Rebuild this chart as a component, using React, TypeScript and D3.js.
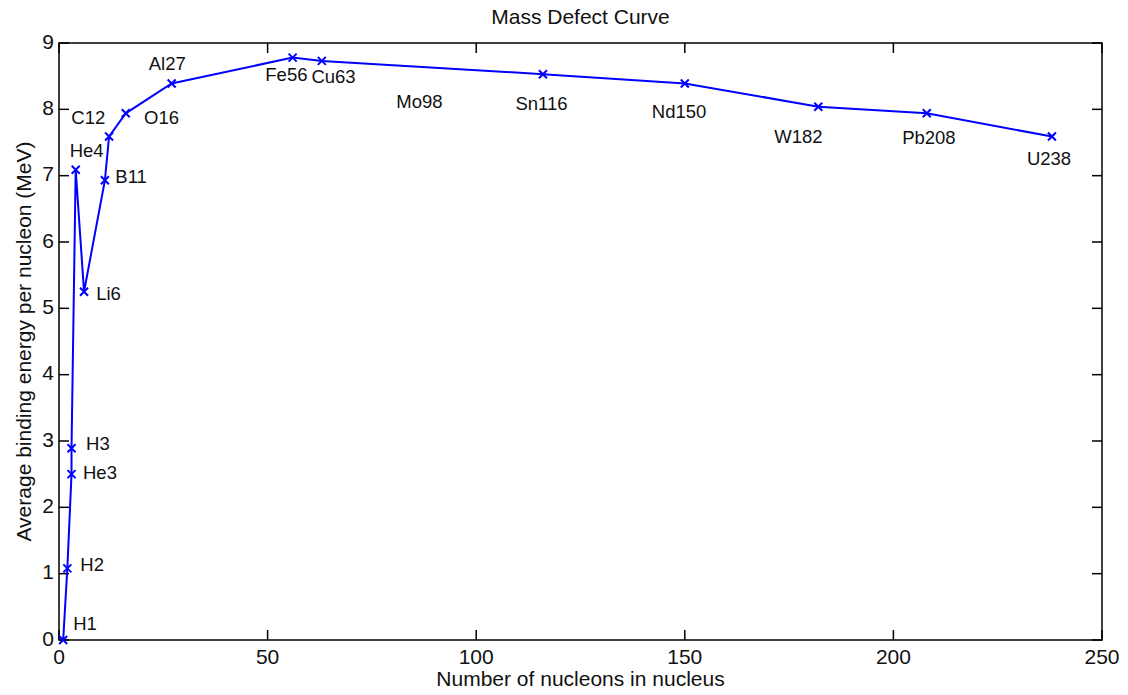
import React, { useEffect, useRef } from "react";
import * as d3 from "d3";

// nuclei on the curve (mass number, binding energy per nucleon in MeV)
const names = ["H1", "H2", "He3", "H3", "He4", "Li6", "B11", "C12", "O16", "Al27", "Fe56", "Cu63", "Sn116", "Nd150", "W182", "Pb208", "U238"];
const massNumber = [1, 2, 3, 3, 4, 6, 11, 12, 16, 27, 56, 63, 116, 150, 182, 208, 238];
const bindingEnergy = [0, 1.08, 2.5, 2.89, 7.09, 5.25, 6.93, 7.59, 7.94, 8.39, 8.78, 8.73, 8.53, 8.39, 8.04, 7.94, 7.59];

// text labels, placed in data units (Mo98 has a label but no point)
const labelNames = ["H1", "H2", "H3", "He3", "He4", "Li6", "B11", "C12", "O16", "Al27", "Fe56", "Cu63", "Mo98", "Sn116", "Nd150", "W182", "Pb208", "U238"];
const labelX = [3.4, 5.1, 6.5, 5.75, 2.55, 8.9, 13.5, 2.95, 20.4, 21.5, 49.45, 60.5, 80.85, 109.4, 142.1, 171.45, 202.1, 232];
const labelY = [0.23, 1.11, 2.94, 2.5, 7.35, 5.2, 6.96, 7.85, 7.85, 8.67, 8.5, 8.47, 8.1, 8.06, 7.94, 7.56, 7.55, 7.24];

const xTicks = [0, 50, 100, 150, 200, 250];
const yTicks = [0, 1, 2, 3, 4, 5, 6, 7, 8, 9];

const W = 1128;
const H = 695;
const margin = { top: 43, right: 26, bottom: 55, left: 59 };
const font = "'Liberation Sans', Arial, sans-serif";

export default function App() {
  const svgRef = useRef<SVGSVGElement | null>(null);

  useEffect(() => {
    const svg = d3.select(svgRef.current);
    svg.selectAll("*").remove();

    const x = d3.scaleLinear().domain([0, 250]).range([margin.left, W - margin.right]);
    const y = d3.scaleLinear().domain([0, 9]).range([H - margin.bottom, margin.top]);
    const [x0, x1] = x.range();
    const [y0, y1] = y.range();
    const tickLen = 10;

    svg.append("rect").attr("width", W).attr("height", H).attr("fill", "#fff");

    // box
    svg.append("rect")
      .attr("x", x0).attr("y", y1)
      .attr("width", x1 - x0).attr("height", y0 - y1)
      .attr("fill", "none").attr("stroke", "#000").attr("stroke-width", 1.5);

    // ticks, inward on all four sides
    const g = svg.append("g").attr("stroke", "#000").attr("stroke-width", 1.5);
    xTicks.forEach(t => {
      g.append("line").attr("x1", x(t)).attr("x2", x(t)).attr("y1", y0).attr("y2", y0 - tickLen);
      g.append("line").attr("x1", x(t)).attr("x2", x(t)).attr("y1", y1).attr("y2", y1 + tickLen);
    });
    yTicks.forEach(t => {
      g.append("line").attr("x1", x0).attr("x2", x0 + tickLen).attr("y1", y(t)).attr("y2", y(t));
      g.append("line").attr("x1", x1).attr("x2", x1 - tickLen).attr("y1", y(t)).attr("y2", y(t));
    });

    svg.append("g").selectAll("text")
      .data(xTicks).join("text")
      .attr("x", d => x(d)).attr("y", y0 + 18)
      .attr("text-anchor", "middle").attr("dominant-baseline", "middle")
      .attr("font-family", font).attr("font-size", 21).attr("fill", "#111")
      .text(d => d);

    svg.append("g").selectAll("text")
      .data(yTicks).join("text")
      .attr("x", x0 - 5).attr("y", d => y(d))
      .attr("text-anchor", "end").attr("dominant-baseline", "middle")
      .attr("font-family", font).attr("font-size", 21).attr("fill", "#111")
      .text(d => d);

    // curve
    const pts = massNumber.map((a, i) => [a, bindingEnergy[i]] as [number, number]);
    const line = d3.line<[number, number]>().x(d => x(d[0])).y(d => y(d[1]));
    svg.append("path")
      .attr("d", line(pts))
      .attr("fill", "none").attr("stroke", "#0000ff").attr("stroke-width", 2);

    const m = 4;
    svg.append("g").selectAll("path")
      .data(pts).join("path")
      .attr("d", d => {
        const cx = x(d[0]), cy = y(d[1]);
        return `M${cx - m},${cy - m}L${cx + m},${cy + m}M${cx - m},${cy + m}L${cx + m},${cy - m}`;
      })
      .attr("stroke", "#0000ff").attr("stroke-width", 2).attr("fill", "none");

    // nucleus labels
    svg.append("g").selectAll("text")
      .data(labelNames).join("text")
      .attr("x", (_, i) => x(labelX[i])).attr("y", (_, i) => y(labelY[i]))
      .attr("dominant-baseline", "middle")
      .attr("font-family", font).attr("font-size", 18.5).attr("fill", "#111")
      .text(d => d);

    // titles
    svg.append("text")
      .attr("x", (x0 + x1) / 2).attr("y", 18)
      .attr("text-anchor", "middle").attr("dominant-baseline", "middle")
      .attr("font-family", font).attr("font-size", 21).attr("fill", "#111")
      .text("Mass Defect Curve");

    svg.append("text")
      .attr("x", (x0 + x1) / 2).attr("y", 680)
      .attr("text-anchor", "middle").attr("dominant-baseline", "middle")
      .attr("font-family", font).attr("font-size", 21).attr("fill", "#111")
      .text("Number of nucleons in nucleus");

    svg.append("text")
      .attr("transform", `translate(25,${(y0 + y1) / 2}) rotate(-90)`)
      .attr("text-anchor", "middle").attr("dominant-baseline", "middle")
      .attr("font-family", font).attr("font-size", 21).attr("fill", "#111")
      .text("Average binding energy per nucleon (MeV)");
  }, []);

  return (
    <svg
      ref={svgRef}
      width={W}
      height={H}
      style={{ position: "absolute", left: 0, top: 0, display: "block" }}
    />
  );
}
